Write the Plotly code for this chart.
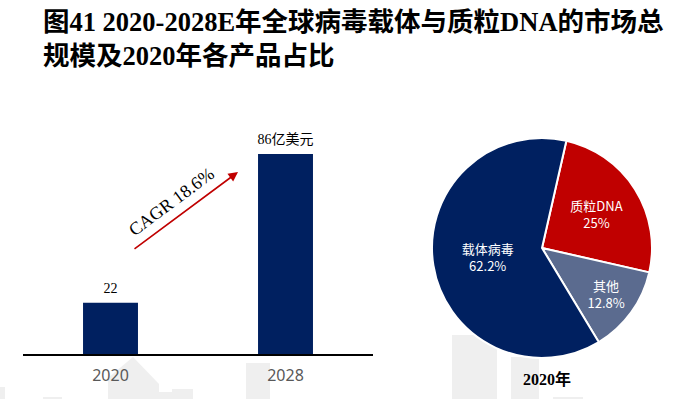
import plotly.graph_objects as go

W, H = 690, 399

# ---- data ----
years = ["2020", "2028"]
market_size = [22, 86]
bar_text = ["22", "86亿美元"]
cagr_text = "CAGR 18.6%"

pie_labels = ["质粒DNA", "其他", "载体病毒"]
pie_values = [25, 12.8, 62.2]
pie_colors = ["#C00000", "#5B6B8F", "#002060"]
pie_caption = "2020年"

title_lines = ["图41 2020-2028E年全球病毒载体与质粒DNA的市场总", "规模及2020年各产品占比"]


def px(x):
    return x / W


def py(y):
    return 1 - y / H


fig = go.Figure()

fig.add_trace(go.Bar(
    x=years, y=market_size,
    marker=dict(color="#002060", line=dict(width=0)),
    showlegend=False, hoverinfo="skip",
))

# value labels above the bars
fig.add_trace(go.Scatter(
    x=years, y=market_size, mode="markers+text", text=bar_text, textposition="top center",
    marker=dict(size=9, opacity=0), cliponaxis=False,
    textfont=dict(family="Liberation Serif, Noto Sans CJK SC", size=14, color="#000000"),
    showlegend=False, hoverinfo="skip",
))

fig.add_trace(go.Pie(
    labels=pie_labels, values=pie_values, sort=False, direction="clockwise",
    rotation=12.8,
    marker=dict(colors=pie_colors, line=dict(color="#FFFFFF", width=2)),
    texttemplate="%{label}<br>%{value}%", textposition="inside",
    insidetextorientation="horizontal",
    textfont=dict(family="Noto Sans CJK SC", size=13, color="#FFFFFF"),
    domain=dict(x=[px(432), px(652)], y=[py(358), py(138)]),
    showlegend=False, hoverinfo="skip",
))

# watermark-like light gray blocks
wm = "#EFEFEF"
shapes = []
for (x0, y0, x1, y1) in [(0, 387, 5, 399), (43, 397, 62, 399), (172, 389, 193, 399),
                         (246, 363, 270, 399), (452, 335, 497, 399), (511, 357, 539, 399),
                         (553, 397, 583, 399), (158, 392, 172, 399)]:
    shapes.append(dict(type="rect", xref="paper", yref="paper", x0=px(x0), x1=px(x1),
                       y0=py(y1), y1=py(y0), fillcolor=wm, line=dict(width=0), layer="below"))
shapes.append(dict(type="path", xref="paper", yref="paper", layer="below",
                   path=f"M {px(108)} {py(399)} L {px(108)} {py(378)} L {px(133)} {py(357)} "
                        f"L {px(159)} {py(384)} L {px(159)} {py(399)} Z",
                   fillcolor=wm, line=dict(width=0)))

annotations = [
    dict(text="<br>".join(title_lines), xref="paper", yref="paper", x=px(41), y=py(5),
         xanchor="left", yanchor="top", align="left", showarrow=False,
         font=dict(family="Liberation Serif, Noto Sans CJK SC", size=26.5, color="#000000", weight="bold")),
    dict(text="", xref="paper", yref="paper", x=px(238), y=py(172), ax=-105, ay=78,
         showarrow=True, arrowhead=2, arrowsize=1.2, arrowwidth=1.6, arrowcolor="#C00000"),
    dict(text=cagr_text, xref="paper", yref="paper", x=px(171), y=py(202), textangle=-36.6,
         xanchor="center", yanchor="middle",
         showarrow=False, font=dict(family="Liberation Serif", size=18, color="#000000")),
    dict(text=pie_caption, xref="paper", yref="paper", x=px(547), y=py(379),
         xanchor="center", yanchor="middle", showarrow=False,
         font=dict(family="Liberation Serif, Noto Sans CJK SC", size=16, color="#000000", weight="bold")),
]

fig.update_layout(
    width=W, height=H, margin=dict(l=0, r=0, t=0, b=0),
    paper_bgcolor="#FFFFFF", plot_bgcolor="rgba(0,0,0,0)",
    bargap=0.686,
    modebar=dict(bgcolor="rgba(0,0,0,0)", color="rgba(0,0,0,0)", activecolor="rgba(0,0,0,0)"),
    xaxis=dict(type="category", domain=[px(23), px(373)], showline=True, linecolor="#000000",
               linewidth=1.5, ticks="", showgrid=False, zeroline=False, ticklabelstandoff=6,
               tickfont=dict(family="Noto Sans, Open Sans", size=16, color="#595959")),
    yaxis=dict(domain=[py(354), py(121.4)], range=[0, 100], visible=False, showgrid=False),
    shapes=shapes, annotations=annotations,
)

fig.write_html(
    "out.html",
    post_script=(
        "document.body.style.margin='0';document.body.style.overflow='hidden';"
        "var s=document.createElement('style');"
        "s.innerHTML='.modebar-container{display:none !important;}';"
        "document.head.appendChild(s);"
    ),
)
